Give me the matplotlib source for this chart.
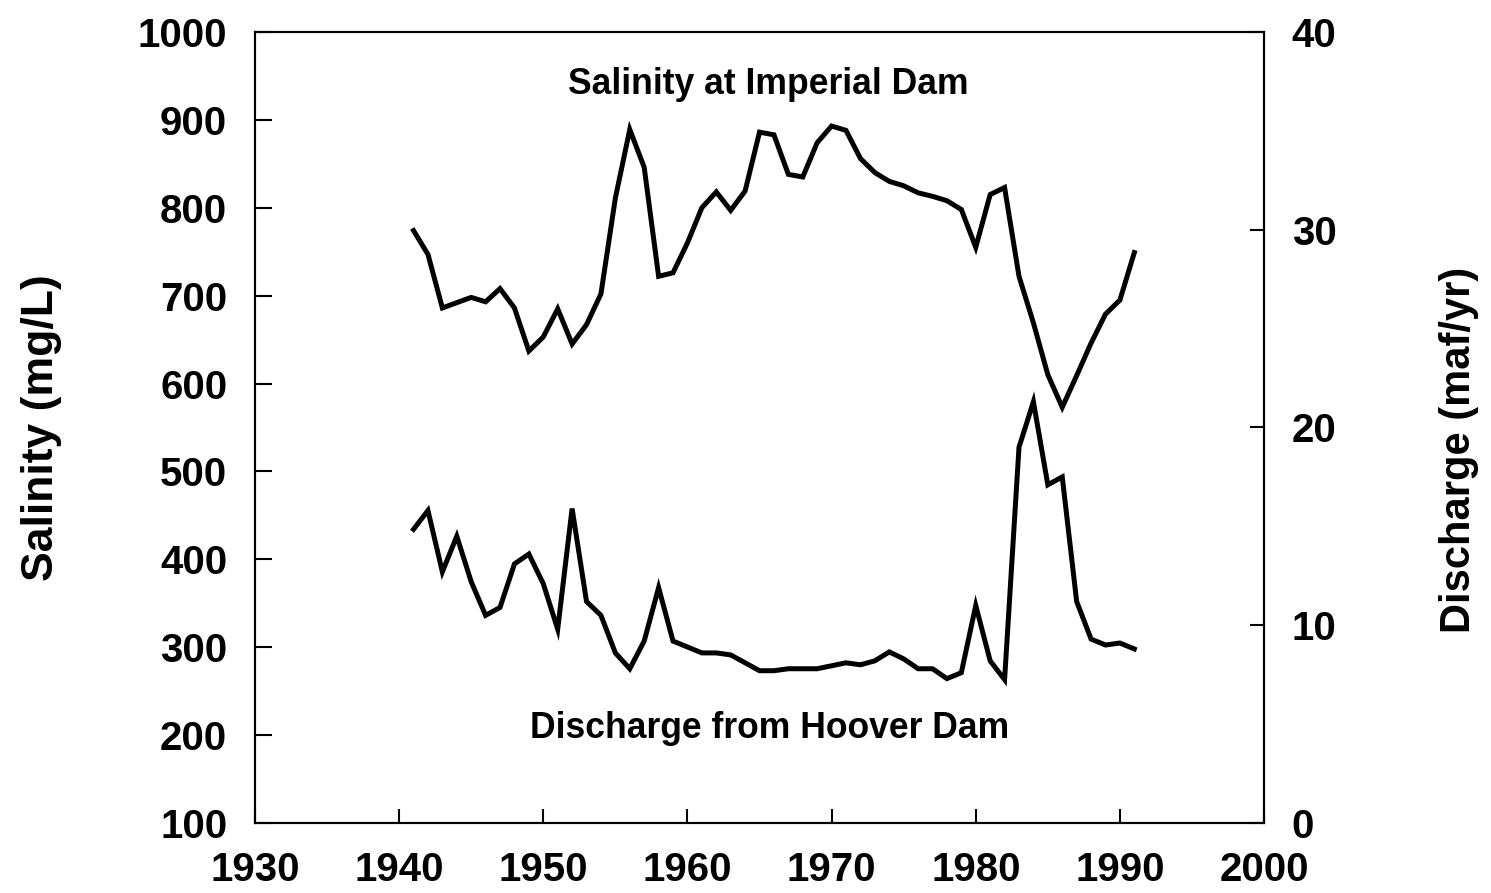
import matplotlib
matplotlib.use("Agg")
import matplotlib.pyplot as plt

years = list(range(1941, 1992))
salinity = [774, 747, 686, 692, 698, 693, 708, 686, 637, 653,
            685, 645, 667, 702, 811, 889, 846, 722, 726, 760,
            800, 818, 797, 819, 886, 883, 838, 835, 874, 893,
            888, 856, 840, 830, 825, 817, 813, 808, 798, 755,
            815, 823, 722, 669, 610, 573, 609, 646, 679, 695,
            749]
discharge = [14.85, 15.8, 12.7, 14.5, 12.2, 10.5, 10.9, 13.1, 13.6, 12.1,
             9.8, 15.9, 11.2, 10.5, 8.6, 7.8, 9.2, 11.9, 9.2, 8.9,
             8.6, 8.6, 8.5, 8.1, 7.7, 7.7, 7.8, 7.8, 7.8, 7.95,
             8.1, 8.0, 8.2, 8.65, 8.3, 7.8, 7.8, 7.3, 7.6, 11.0,
             8.2, 7.25, 19.0, 21.3, 17.1, 17.5, 11.2, 9.3, 9.0, 9.1,
             8.8]

x_ticks = [1930, 1940, 1950, 1960, 1970, 1980, 1990, 2000]
sal_ticks = [100, 200, 300, 400, 500, 600, 700, 800, 900, 1000]
dis_ticks = [0, 10, 20, 30, 40]

plt.rcParams['font.family'] = ['Liberation Sans', 'DejaVu Sans']
plt.rcParams['font.weight'] = 'bold'

fig = plt.figure(figsize=(14.91, 8.93), dpi=100)
ax = fig.add_axes([0.171, 0.0784, 0.6768, 0.8858])
ax2 = ax.twinx()

ax.plot(years, salinity, color='black', lw=3.6, solid_joinstyle='miter')
ax2.plot(years, discharge, color='black', lw=3.6, solid_joinstyle='miter')

ax.set_xlim(1930, 2000)
ax.set_ylim(100, 1000)
ax2.set_ylim(0, 40)
ax.set_xticks(x_ticks)
ax.set_yticks(sal_ticks)
ax2.set_yticks(dis_ticks)

fs = 29
ax.tick_params(axis='x', direction='in', length=10, width=1.5, pad=20, labelsize=fs)
ax.tick_params(axis='y', direction='in', length=12, width=1.5, pad=20, labelsize=fs)
ax2.tick_params(axis='y', direction='in', length=10, width=1.5, pad=20, labelsize=fs)
for a in (ax, ax2):
    for lab in a.get_xticklabels() + a.get_yticklabels():
        lab.set_fontweight('bold')
    for s in a.spines.values():
        s.set_linewidth(1.5)

ax.set_ylabel('Salinity (mg/L)', fontsize=32, fontweight='bold')
ax.yaxis.set_label_coords(-0.191, 0.5)
ax2.set_ylabel('Discharge (maf/yr)', fontsize=30, fontweight='bold', rotation=90)
ax2.yaxis.set_label_coords(1.173, 0.472)

ax.text(1965.6, 940, 'Salinity at Imperial Dam', fontsize=25.6, fontweight='bold',
        ha='center', va='center')
ax.text(1965.7, 208, 'Discharge from Hoover Dam', fontsize=25.6, fontweight='bold',
        ha='center', va='center')

fig.savefig('out.png', dpi=100)
